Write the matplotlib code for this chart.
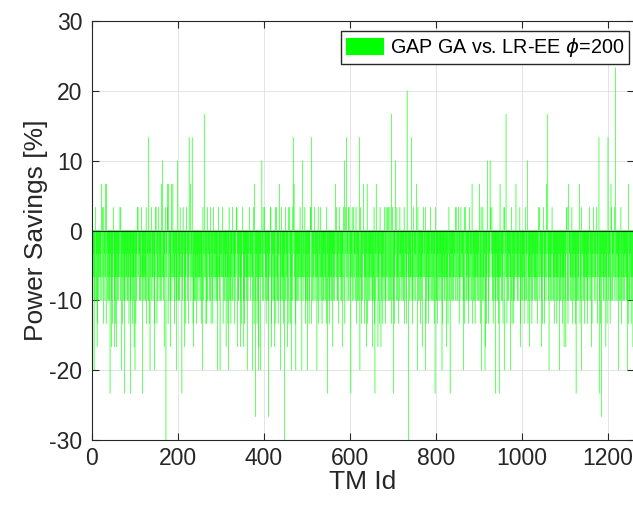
import numpy as np
import matplotlib.pyplot as plt

plt.rcParams['font.family'] = ['Liberation Sans', 'DejaVu Sans']
plt.rcParams['axes.unicode_minus'] = False

# Savings per traffic matrix in steps of 1/30 (3.33 %).
# '0'-'7' = 0..+7 steps, 'a'-'i' = -1..-9 steps
level_rows = [
    "bcabdcb1cacbdacbabcbabcbc1dbacbcdbacbcabcbabecbda1bacbdbcacb",
    "cbab1cdbcadbcabcbacbbcacbdab1ccabdbcbeabbdcabc1bacacbcdbabcb",
    "abcbc1dbaccbdacbabcbbcabdcb1cadbcabcbacbcabdbcbeabcbab1cdbca",
    "bcdbacbcabbdcabc1bacacbcdbabcbcbabecbda1bcacbdab1cbacbdbcacb",
    "cbdacbabcbbcabdcb1cacbab1cdbcaabcbc1dbacdbcabcbacbcabdbcbeab",
    "bacbdbcacbbcacbdab1cbcdbacbcabbdcabc1baccbabecbda1acbcdbabcb",
    "dbcabcbacbabcbc1dbaccabdbcbeabbcabdcb1cabacbdbcacbcbab1cdbca",
    "bcacbdab1ccbdacbabcbacbcdbabcbcbabecbda1bdcabc1bacbcdbacbcab",
    "cabdbcbeabcbab1cdbcabcabdcb1cadbcabcbacbabcbc1dbacbacbdbcacb",
    "acbcdbabcbbcdbacbcabbcacbdab1ccbdacbabcbcbabecbda1bdcabc1bac",
    "bcabdcb1cabacbdbcacbcbab1cdbcacabdbcbeabdbcabcbacbabcbc1dbac",
    "cbabecbda1acbcdbabcbbdcabc1bacbcacbdab1cbcdbacbcabcbdacbabcb",
    "abcbc1dbacdbcabcbacbbcabdcb1cabacbdbcacbcabdbcbeabcbab1cdbca",
    "bdcabc1bacbcacbdab1ccbdacbabcbacbcdbabcbcbabecbda1bcdbacbcab",
    "cbab1cdbcacabdbcbeababcbc1dbacbcabdcb1cabacbdbcacbdbcabcbacb",
    "bcdbacbcabcbabecbda1bdcabc1baccbdacbabcbacbcdbabcbbcacbdab1c",
    "bacbdbcacbabcbc1dbacdbcabcbacbcbab1cdbcabcabdcb1cacabdbcbeab",
    "cbdacbabcbbcacbdab1ccbabecbda1bdcabc1bacbcdbacbcabacbcdbabcb",
    "dbcabcbacbcabdbcbeabcbab1cdbcaabcbc1dbacbacbdbcacbbcabdcb1ca",
    "acbcdbabcbbdcabc1bacbcdbacbcabbcacbdab1ccbdacbabcbcbabecbda1",
    "bcabdcb1cacbab1cdbcabacbdbcacbdbcabcbacbabcbc1dbaccabdbcbeab",
]
step_code = {'0': 0, '1': 1, '2': 2, '3': 3, '4': 4, '5': 5, '6': 6, '7': 7,
             'a': -1, 'b': -2, 'c': -3, 'd': -4, 'e': -5, 'f': -6, 'g': -7,
             'h': -8, 'i': -9}

# Traffic matrices with larger gains / losses
peak_ids = [5, 12, 22, 25, 32, 34, 42, 52, 57, 67, 69, 75, 89, 100, 106, 115,
            117, 132, 135, 138, 146, 149, 154, 162, 164, 171, 172, 176, 178,
            183, 185, 188, 197, 199, 205, 209, 212, 220,
            224, 226, 229, 233, 236, 257, 261, 265, 268, 283, 292, 294, 298,
            303, 312, 317, 327, 336, 338, 353, 361, 366, 373, 378, 380, 387,
            392, 395, 401, 410, 416, 418, 425, 427, 436, 438,
            441, 448, 450, 457, 464, 468, 470, 474, 484, 488, 489, 501, 509,
            510, 517, 523, 532, 546, 548, 560, 566, 575, 582, 585, 587, 592,
            598, 602, 605, 614, 622, 623, 631, 640, 652, 658, 661,
            672, 680, 684, 689, 693, 697, 701, 706, 709, 716, 733, 736, 743,
            755, 757, 758, 771, 776, 798, 814, 833, 847, 852, 858, 864, 868,
            884,
            901, 905, 906, 909, 914, 920, 926, 930, 938, 947, 949, 958, 960,
            963, 973, 986, 996, 1013, 1018, 1041, 1057, 1060, 1063, 1070,
            1087, 1102, 1104, 1108, 1126, 1134, 1139, 1162, 1166, 1174, 1179,
            1181, 1185, 1200, 1207, 1217, 1225, 1230, 1246, 1248]
peak_steps = [-6, -5, 2, 1, 2, 2, -7, -5, -5, 1, -6, -7, -7, -6, 1, 1,
              -7, 4, -6, 1, -6, 1, 1, 2, 3, 1, -9, 2, 2,
              -5, 2, 2, -6, 3, 1, -7, 1, 1,
              -4, 4, 2, 4, -5, -6, 5, -4, 1, 1, -6, 1, -6,
              1, -5, -6, 1, 1, -5, -5, -6, 1, -6, 2, -8, -6,
              -6, 3, 1, -8, 1, -5, -5, 1, 2, -6,
              1, -9, 1, 1, -6, 4, 2, -6, 1, -6, 3, -6, 1,
              4, 1, -6, 1, 1, -7, -5, 2, 1, -5, 1, 3, 4,
              1, -7, 1, 1, 4, -6, 2, 2, -5, -7, 2,
              -5, 1, 1, 1, 1, 5, -7, 3, 1, 1, 6, -9, 4,
              2, -6, 1, 1, -6, -7, -6, -7, 1, 1, 1, -6, 1,
              2,
              2, 1, -6, 1, -6, 3, 3, 1, -7, -7, 2, 1, -6,
              5, -6, 2, -5, 3, -5, 1, 2, 5, -6, 1,
              -6, -5, 1, 2, -7, 2, -6, -5, 1, 1, 4,
              -7, -8, 4, 2, 7, -6, 1, -6, 2]

steps = np.array([step_code[c] for c in "".join(level_rows)])
steps[np.array(peak_ids) - 1] = peak_steps
savings = steps * 100 / 30
tm_id = np.arange(1, len(savings) + 1)

dark = '#262626'
fig = plt.figure(figsize=(6.33, 5.11), dpi=100)
ax = fig.add_axes([92 / 633, 1 - 440 / 511, (634.2 - 92) / 633, 419 / 511])

# bars are narrower than a pixel: no snapping so they blend like thin lines
ax.bar(tm_id, savings, width=1.0, color='#00ff00', edgecolor='#00ff00',
       linewidth=0.1, label=r'GAP GA vs. LR-EE $\phi$=200', zorder=2,
       snap=False, antialiased=True)
ax.axhline(0, color=dark, lw=0.8, zorder=3)

ax.set_xlim(0, 1261)
ax.set_ylim(-30, 30)
ax.set_xticks(np.arange(0, 1201, 200))
ax.set_yticks(np.arange(-30, 31, 10))
ax.grid(True, color='#dfdfdf', lw=0.6, zorder=0)
ax.set_axisbelow(True)
ax.tick_params(direction='in', length=5, top=True, right=True,
               labelsize=16.5, colors=dark, width=0.8)
ax.tick_params(axis='y', pad=7)
ax.tick_params(axis='x', pad=5)
for sp in ax.spines.values():
    sp.set_color(dark)
    sp.set_linewidth(0.8)

ax.set_xlabel('TM Id', fontsize=19, color=dark, labelpad=0)
ax.set_ylabel('Power Savings [%]', fontsize=19, color=dark, labelpad=1)

ax.legend(loc='upper right', bbox_to_anchor=(629 / 633, 1 - 31 / 511),
          bbox_transform=fig.transFigure, fontsize=14.2, fancybox=False,
          framealpha=1, edgecolor=dark, borderaxespad=0, borderpad=0.25,
          handlelength=1.9, handleheight=0.95, handletextpad=0.3)

fig.savefig('out.png', dpi=100)
